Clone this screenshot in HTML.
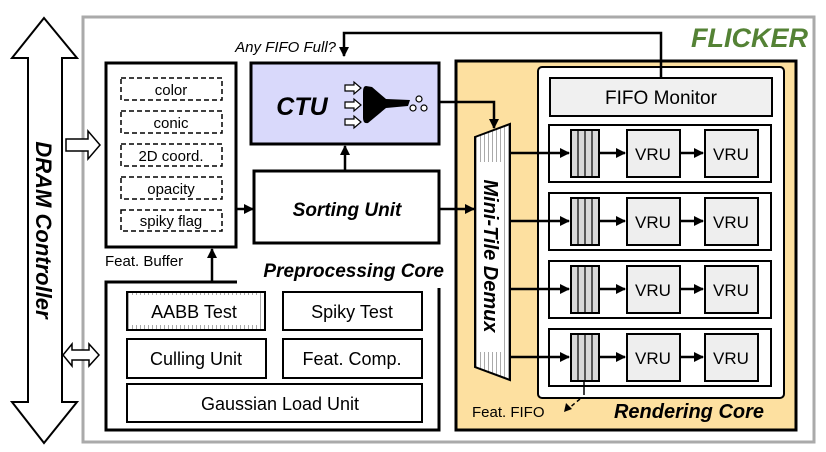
<!DOCTYPE html>
<html><head><meta charset="utf-8"><style>
html,body{margin:0;padding:0;background:#fff;width:826px;height:452px;overflow:hidden}
text{font-family:"Liberation Sans",sans-serif}
</style></head><body>
<svg width="826" height="452" viewBox="0 0 826 452" xmlns="http://www.w3.org/2000/svg">
<defs>
<marker id="ah" markerWidth="10" markerHeight="10" refX="9" refY="5" orient="auto" markerUnits="userSpaceOnUse"><path d="M0,0 L10,5 L0,10 z" fill="#000"/></marker>
<pattern id="vs" width="4" height="4" patternUnits="userSpaceOnUse"><rect width="4" height="4" fill="#fff"/><rect width="1" height="4" fill="#aaa"/></pattern>
</defs>
<rect x="83" y="17" width="731" height="425" fill="#fff" stroke="#aaa" stroke-width="3"/>
<text x="808" y="47" text-anchor="end" font-size="27" font-weight="bold" font-style="italic" fill="#548235">FLICKER</text>
<path d="M44,18 L77,58 L62,58 L62,402 L77,402 L44,443 L12,402 L28,402 L28,58 L12,58 Z" fill="#fff" stroke="#000" stroke-width="2"/>
<text transform="translate(36,230) rotate(90)" text-anchor="middle" font-size="22" font-weight="bold" font-style="italic">DRAM Controller</text>
<path d="M66,139 L88,139 L88,131 L100,145 L88,159 L88,151 L66,151 Z" fill="#fff" stroke="#000" stroke-width="1.5"/>
<path d="M63,355 L72,344 L72,350 L89,350 L89,344 L99,355 L89,366 L89,360 L72,360 L72,366 Z" fill="#fff" stroke="#000" stroke-width="1.5"/>
<rect x="106" y="63" width="130" height="184" fill="#fff" stroke="#000" stroke-width="3"/>
<g fill="#fff" stroke="#000" stroke-width="1.5" stroke-dasharray="5,3">
<rect x="121" y="78" width="101" height="22"/><rect x="121" y="111" width="101" height="22"/><rect x="121" y="144" width="101" height="22"/><rect x="121" y="177" width="101" height="22"/><rect x="121" y="210" width="101" height="21"/>
</g>
<g font-size="15" text-anchor="middle">
<text x="171" y="95">color</text><text x="171" y="128">conic</text><text x="171" y="161">2D coord.</text><text x="171" y="194">opacity</text><text x="171" y="226">spiky flag</text>
</g>
<text x="105" y="266" font-size="15">Feat. Buffer</text>
<rect x="251" y="63" width="188" height="81" fill="#d9d9fb" stroke="#000" stroke-width="3"/>
<text x="302" y="115" text-anchor="middle" font-size="25" font-weight="bold" font-style="italic">CTU</text>
<g fill="#fff" stroke="#000" stroke-width="1.2">
<path d="M345,85 L354,85 L354,82 L361,88 L354,94 L354,91 L345,91 Z"/>
<path d="M345,102 L354,102 L354,99 L361,105 L354,111 L354,108 L345,108 Z"/>
<path d="M345,119 L354,119 L354,116 L361,122 L354,128 L354,125 L345,125 Z"/>
</g>
<path d="M366,86 Q363,86 363,92 L363,118 Q363,124 368,123 L386,108 L408,106 L410,100 L386,99 L372,87 Z" fill="#000"/>
<g fill="#fff" stroke="#000" stroke-width="1.2"><circle cx="419" cy="99" r="3"/><circle cx="413" cy="108" r="3"/><circle cx="424" cy="108" r="3"/></g>
<rect x="254" y="171" width="185" height="72" fill="#fff" stroke="#000" stroke-width="3"/>
<text x="347" y="216" text-anchor="middle" font-size="19" font-weight="bold" font-style="italic">Sorting Unit</text>
<path d="M237,282 L106,282 L106,430 L439,430 L439,288" fill="none" stroke="#000" stroke-width="3"/>
<text x="444" y="277" text-anchor="end" font-size="19" font-weight="bold" font-style="italic">Preprocessing Core</text>
<rect x="127" y="292" width="138" height="38" fill="url(#vs)" stroke="#000" stroke-width="2"/>
<rect x="132" y="295" width="125" height="30" fill="#fff"/>
<text x="194" y="318" text-anchor="middle" font-size="18">AABB Test</text>
<rect x="283" y="292" width="139" height="38" fill="#fff" stroke="#000" stroke-width="2"/>
<text x="352" y="318" text-anchor="middle" font-size="18">Spiky Test</text>
<rect x="127" y="339" width="139" height="39" fill="#fff" stroke="#000" stroke-width="2"/>
<text x="196" y="365" text-anchor="middle" font-size="18">Culling Unit</text>
<rect x="283" y="339" width="139" height="39" fill="#fff" stroke="#000" stroke-width="2"/>
<text x="352" y="365" text-anchor="middle" font-size="18">Feat. Comp.</text>
<rect x="127" y="384" width="295" height="38" fill="#fff" stroke="#000" stroke-width="2"/>
<text x="280" y="410" text-anchor="middle" font-size="18">Gaussian Load Unit</text>
<rect x="456" y="61" width="340" height="369" fill="#fde0a0" stroke="#000" stroke-width="3"/>
<rect x="538" y="67" width="246" height="331" rx="4" fill="#fff" stroke="#000" stroke-width="2"/>
<rect x="550" y="78" width="222" height="38" fill="#f0f0f0" stroke="#000" stroke-width="2"/>
<text x="661" y="104" text-anchor="middle" font-size="19">FIFO Monitor</text>
<rect x="549" y="125" width="222" height="57" fill="#fff" stroke="#000" stroke-width="2"/>
<rect x="549" y="193" width="222" height="57" fill="#fff" stroke="#000" stroke-width="2"/>
<rect x="549" y="261" width="222" height="57" fill="#fff" stroke="#000" stroke-width="2"/>
<rect x="549" y="329" width="222" height="57" fill="#fff" stroke="#000" stroke-width="2"/>
<g stroke="#000" stroke-width="2">
<g fill="#d8d8d8">
<rect x="571" y="130" width="28" height="47"/><rect x="571" y="198" width="28" height="47"/><rect x="571" y="266" width="28" height="47"/><rect x="571" y="334" width="28" height="47"/>
</g>
<g stroke-width="1.2"><path d="M578,130V177M585,130V177M592,130V177M578,198V245M585,198V245M592,198V245M578,266V313M585,266V313M592,266V313M578,334V381M585,334V381M592,334V381"/></g>
<g fill="#eee">
<rect x="627" y="130" width="53" height="47"/><rect x="705" y="130" width="53" height="47"/>
<rect x="627" y="198" width="53" height="47"/><rect x="705" y="198" width="53" height="47"/>
<rect x="627" y="266" width="53" height="47"/><rect x="705" y="266" width="53" height="47"/>
<rect x="627" y="334" width="53" height="47"/><rect x="705" y="334" width="53" height="47"/>
</g>
</g>
<g font-size="17" text-anchor="middle">
<text x="653" y="160">VRU</text><text x="731" y="160">VRU</text>
<text x="653" y="228">VRU</text><text x="731" y="228">VRU</text>
<text x="653" y="296">VRU</text><text x="731" y="296">VRU</text>
<text x="653" y="364">VRU</text><text x="731" y="364">VRU</text>
</g>
<g stroke="#000" stroke-width="2.5" marker-end="url(#ah)">
<line x1="511" y1="153" x2="569" y2="153"/><line x1="599" y1="153" x2="625" y2="153"/><line x1="680" y1="153" x2="703" y2="153"/>
<line x1="511" y1="221" x2="569" y2="221"/><line x1="599" y1="221" x2="625" y2="221"/><line x1="680" y1="221" x2="703" y2="221"/>
<line x1="511" y1="289" x2="569" y2="289"/><line x1="599" y1="289" x2="625" y2="289"/><line x1="680" y1="289" x2="703" y2="289"/>
<line x1="511" y1="357" x2="569" y2="357"/><line x1="599" y1="357" x2="625" y2="357"/><line x1="680" y1="357" x2="703" y2="357"/>
</g>
<path d="M475,137 L510,124 L510,380 L475,367 Z" fill="url(#vs)" stroke="#000" stroke-width="2"/>
<rect x="479" y="162" width="24" height="190" fill="#fff"/>
<text transform="translate(484,256) rotate(90)" text-anchor="middle" font-size="20" font-weight="bold" font-style="italic">Mini-Tile Demux</text>
<text x="472" y="417" font-size="15">Feat. FIFO</text>
<path d="M584,382 L584,395" stroke="#000" stroke-width="1.5"/>
<path d="M580,399 L568,409" stroke="#000" stroke-width="1.5" stroke-dasharray="4,3"/>
<path d="M564,412 L566,403 L572,409 Z" fill="#000"/>
<text x="689" y="418" text-anchor="middle" font-size="20" font-weight="bold" font-style="italic">Rendering Core</text>
<g fill="none" stroke="#000" stroke-width="2.5">
<path d="M661,78 L661,33 L344,33 L344,56" marker-end="url(#ah)"/>
<path d="M440,102 L494,102 L494,128" marker-end="url(#ah)"/>
<path d="M345,170 L345,146" marker-end="url(#ah)"/>
<path d="M237,209 L253,209" marker-end="url(#ah)"/>
<path d="M440,209 L474,209" marker-end="url(#ah)"/>
<path d="M212,281 L212,249" marker-end="url(#ah)"/>
</g>
<text x="336" y="52" text-anchor="end" font-size="15" font-style="italic">Any FIFO Full?</text>
</svg>
</body></html>
